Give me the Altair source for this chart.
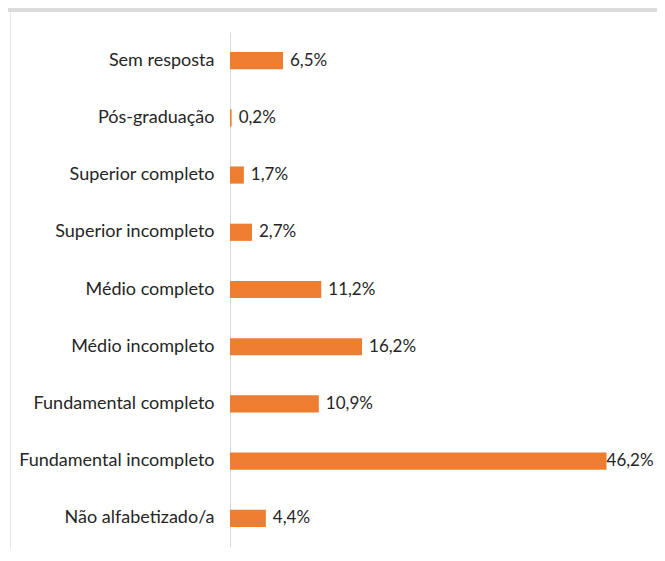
import altair as alt
import pandas as pd

categories = ["Sem resposta", "Pós-graduação", "Superior completo", "Superior incompleto",
              "Médio completo", "Médio incompleto", "Fundamental completo",
              "Fundamental incompleto", "Não alfabetizado/a"]
values = [6.5, 0.2, 1.7, 2.7, 11.2, 16.2, 10.9, 46.2, 4.4]
labels = ["6,5%", "0,2%", "1,7%", "2,7%", "11,2%", "16,2%", "10,9%", "46,2%", "4,4%"]

df = pd.DataFrame({"cat": categories, "val": values, "lab": labels})

FONT = "Lato"
FS = 18
FS_VAL = 17
W, H = 400, 515

y_enc = alt.Y("cat:N", sort=categories,
              scale=alt.Scale(paddingInner=0.7, paddingOuter=0.35),
              axis=alt.Axis(title=None, ticks=False, labelPadding=16, labelFontSize=FS,
                            labelFont=FONT, labelColor="#262626", domainColor="#d9d9d9",
                            labelLimit=300))
x_enc = alt.X("val:Q", scale=alt.Scale(domain=[0, W / 8.15], nice=False), axis=None)

bars = alt.Chart(df).mark_bar(color="#ED7D31").encode(x=x_enc, y=y_enc)

text_small = alt.Chart(df).transform_filter("datum.val < 40").mark_text(
    align="left", baseline="middle", dx=7, font=FONT, fontSize=FS_VAL, color="#262626"
).encode(x=x_enc, y=alt.Y("cat:N", sort=categories), text="lab:N")

text_big = alt.Chart(df).transform_filter("datum.val >= 40").mark_text(
    align="left", baseline="middle", dx=0, font=FONT, fontSize=FS_VAL, color="#262626"
).encode(x=x_enc, y=alt.Y("cat:N", sort=categories), text="lab:N")

top_band = alt.Chart(df).mark_rule(color="#dcdcdc", strokeWidth=5).encode(
    x=alt.value(-222), x2=alt.value(440), y=alt.value(-22.5))
left_border = alt.Chart(df).mark_rule(color="#e6e6e6", strokeWidth=1).encode(
    x=alt.value(-219.5), y=alt.value(-20), y2=alt.value(530))

chart = alt.layer(top_band, left_border, bars, text_small, text_big).properties(
    width=W, height=H,
    background="white",
    autosize=alt.AutoSizeParams(type="none"),
    padding={"left": 222, "top": 24, "right": 27, "bottom": 2},
).configure_view(strokeWidth=0, stroke="transparent")

chart.save("out.html", embed_options={"renderer": "svg", "actions": False})
